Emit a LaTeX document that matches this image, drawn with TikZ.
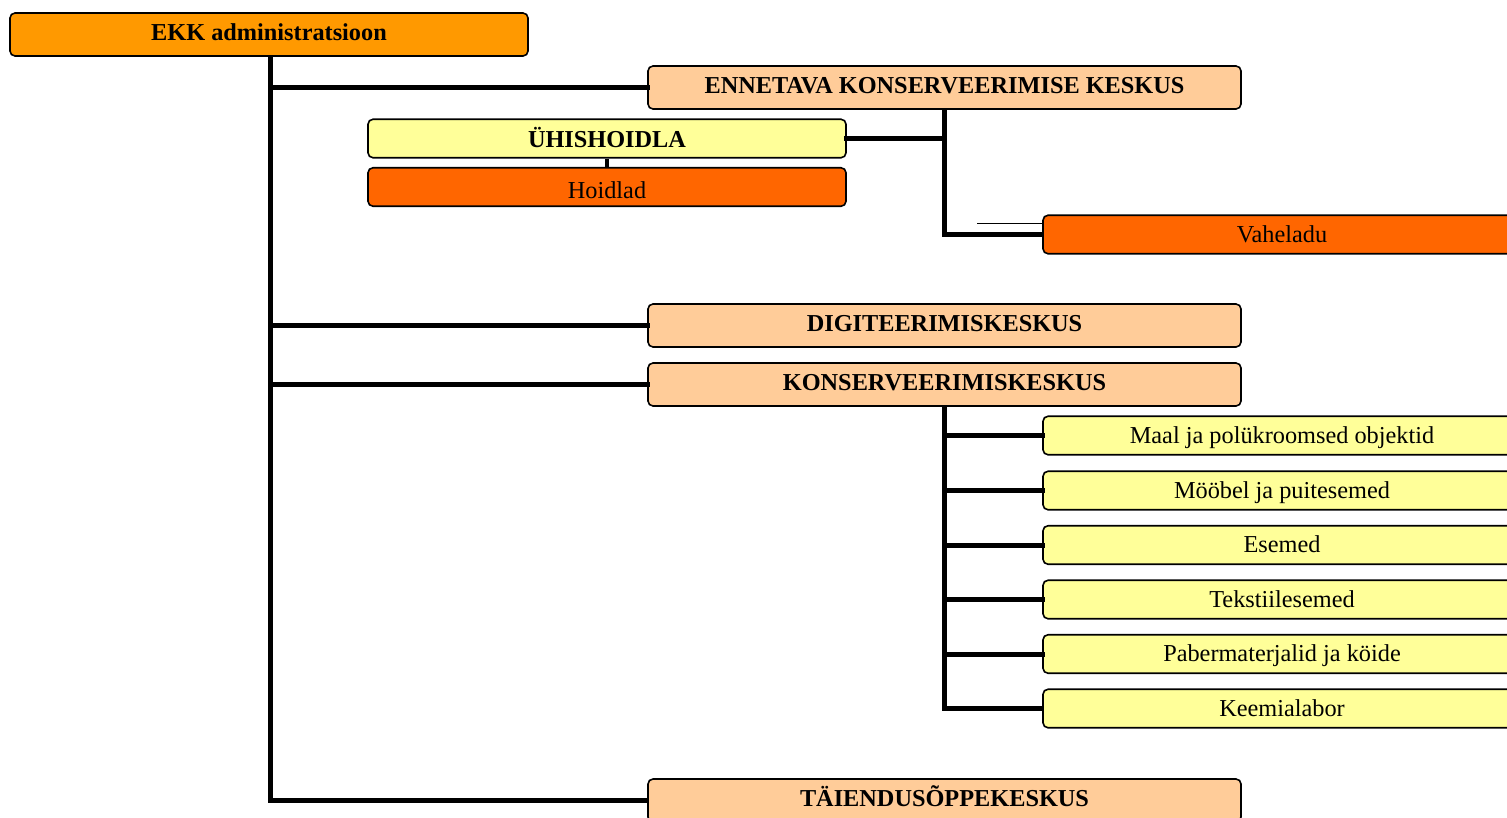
\documentclass[tikz,border=0pt]{standalone}
\usepackage{fontspec}
\setmainfont{Liberation Serif}
\definecolor{cA}{HTML}{FF9900}
\definecolor{cB}{HTML}{FFCC99}
\definecolor{cC}{HTML}{FFFF99}
\definecolor{cD}{HTML}{FF6600}
\tikzset{
  box/.style={draw=black, line width=1.6pt, rounded corners=5pt, inner sep=0pt,
    font=\fontsize{24.3}{28}\selectfont, text=black, text height=16pt, text depth=5pt},
  bigbox/.style={box, minimum width=593pt, minimum height=43pt, fill=cB, font=\fontsize{24.3}{28}\selectfont\bfseries},
  smallbox/.style={box, minimum width=478pt, minimum height=38.5pt, text height=17.5pt, text depth=2pt},
  conn/.style={line width=5pt, line cap=rect},
}
\begin{document}
\begin{tikzpicture}[x=1pt,y=-1pt]
\useasboundingbox (0,0) rectangle (1507,817);
\clip (0,0) rectangle (1507,817);
% nodes
\node[box, fill=cA, minimum width=518pt, minimum height=43pt, font=\fontsize{24.3}{28}\selectfont\bfseries, text height=17pt, text depth=5pt] (ekk) at (269,34.5) {EKK administratsioon};
\node[bigbox] (enn) at (944.5,87.5) {ENNETAVA KONSERVEERIMISE KESKUS};
\node[smallbox, fill=cC, font=\fontsize{24.3}{28}\selectfont\bfseries, text height=19pt, text depth=1pt] (uhis) at (607,138.5) {ÜHISHOIDLA};
\node[smallbox, fill=cD, text height=23pt, text depth=0pt] (hoid) at (607,187) {Hoidlad};
\node[smallbox, fill=cD] (vah) at (1282,234.5) {Vaheladu};
\node[bigbox] (digi) at (944.5,325.5) {DIGITEERIMISKESKUS};
\node[bigbox] (kons) at (944.5,384.5) {KONSERVEERIMISKESKUS};
\node[smallbox, fill=cC] (maal) at (1282,435.5) {Maal ja polükroomsed objektid};
\node[smallbox, fill=cC] (moob) at (1282,490.5) {Mööbel ja puitesemed};
\node[smallbox, fill=cC] (esem) at (1282,545) {Esemed};
\node[smallbox, fill=cC] (teks) at (1282,599.5) {Tekstiilesemed};
\node[smallbox, fill=cC] (pabe) at (1282,654) {Pabermaterjalid ja köide};
\node[smallbox, fill=cC] (keem) at (1282,708.5) {Keemialabor};
\node[bigbox] (tai) at (944.5,800.5) {TÄIENDUSÕPPEKESKUS};
% connectors
\coordinate (ta) at (270,57);
\draw[line width=5pt] (ta) |- (tai.west);
\draw[conn] (ta |- enn.west) -- (enn.west);
\draw[conn] (ta |- digi.west) -- (digi.west);
\draw[conn] (ta |- kons.west) -- (kons.west);
\draw[line width=5pt] (enn.south) |- (vah.west);
\draw[conn] (enn.south |- uhis.east) -- (uhis.east);
\draw[line width=4pt] (uhis.south) -- (hoid.north);
\draw[line width=5pt] (kons.south) |- (keem.west);
\draw[conn] (kons.south |- maal.west) -- (maal.west);
\draw[conn] (kons.south |- moob.west) -- (moob.west);
\draw[conn] (kons.south |- esem.west) -- (esem.west);
\draw[conn] (kons.south |- teks.west) -- (teks.west);
\draw[conn] (kons.south |- pabe.west) -- (pabe.west);
\coordinate (thinA) at (977,223);
\draw[line width=0.9pt] (thinA) -- (thinA -| vah.west);
\end{tikzpicture}
\end{document}
